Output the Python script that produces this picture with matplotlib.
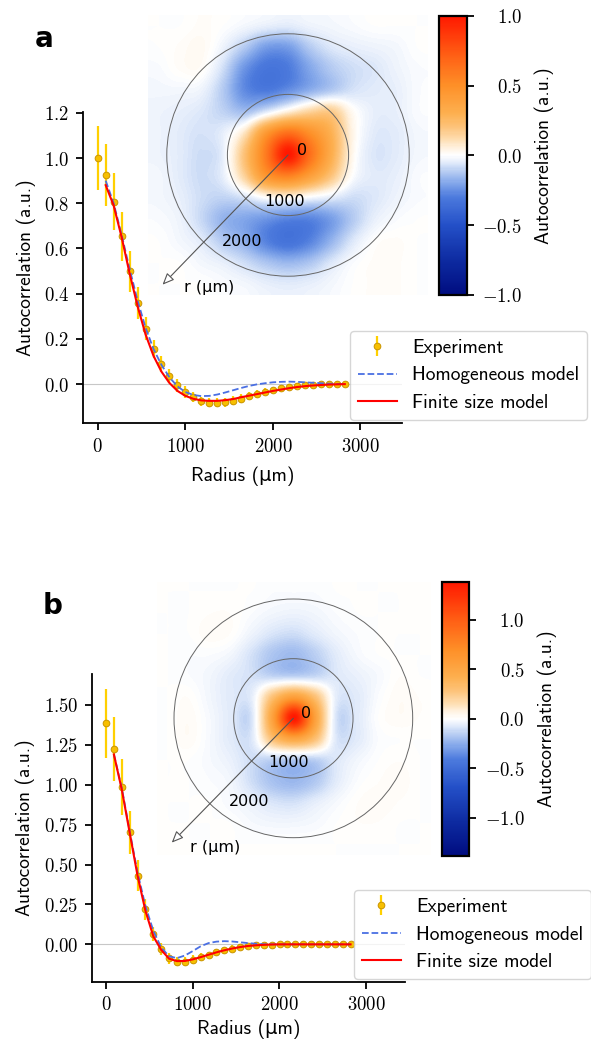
import numpy as np
import matplotlib
matplotlib.use("Agg")
from matplotlib import pyplot as plt
from matplotlib.colors import LinearSegmentedColormap
from matplotlib.patches import Circle, FancyArrowPatch
from matplotlib.ticker import FuncFormatter

plt.rcParams['mathtext.fontset'] = 'cm'

# radial positions of the measured points (um)
radius = np.arange(32) * 91

# panel a
exp_a = [1.0, 0.925, 0.807, 0.653, 0.499, 0.36, 0.245, 0.157, 0.09, 0.036, -0.006,
         -0.035, -0.057, -0.076, -0.083, -0.083, -0.08, -0.073, -0.065, -0.054, -0.044,
         -0.034, -0.026, -0.019, -0.013, -0.009, -0.005, -0.002, -0.001, 0.0, 0.0, 0.0]
err_a = [0.14, 0.135, 0.125, 0.11, 0.09, 0.07, 0.05, 0.04, 0.035, 0.03, 0.028,
         0.025, 0.022, 0.02, 0.02, 0.02, 0.02, 0.02, 0.02, 0.018, 0.018,
         0.016, 0.015, 0.015, 0.014, 0.013, 0.012, 0.012, 0.012, 0.012, 0.012, 0.012]
homog_a = [0.9, 0.8, 0.66, 0.51, 0.37, 0.25, 0.155, 0.085, 0.03, -0.01, -0.035,
           -0.048, -0.053, -0.052, -0.046, -0.037, -0.027, -0.017, -0.008, -0.001, 0.004,
           0.008, 0.01, 0.011, 0.01, 0.008, 0.006, 0.004, 0.002, 0.001, 0.0]
finite_a = [0.88, 0.79, 0.65, 0.49, 0.345, 0.22, 0.125, 0.055, 0.005, -0.03, -0.052,
            -0.065, -0.072, -0.074, -0.074, -0.071, -0.066, -0.058, -0.051, -0.044, -0.037,
            -0.03, -0.024, -0.018, -0.013, -0.009, -0.006, -0.004, -0.002, -0.001, 0.0]
map_a = [
    [0, 0, 0.01, 0, -0.02, -0.04, -0.05, -0.03, -0.02, -0.01, 0, 0, 0],
    [0, 0.01, 0.02, -0.03, -0.12, -0.22, -0.22, -0.12, -0.06, -0.04, -0.03, -0.02, 0],
    [-0.01, 0.01, 0.01, -0.08, -0.24, -0.32, -0.3, -0.2, -0.12, -0.08, -0.06, -0.03, -0.01],
    [-0.02, -0.02, -0.03, -0.12, -0.26, -0.3, -0.25, -0.18, -0.12, -0.07, -0.05, -0.04, -0.01],
    [-0.03, -0.04, -0.06, -0.1, -0.14, -0.05, 0.06, 0.15, 0.18, 0.02, -0.04, -0.04, -0.01],
    [-0.03, -0.05, -0.07, -0.04, 0.1, 0.45, 0.65, 0.5, 0.3, 0.04, -0.05, -0.05, -0.02],
    [-0.03, -0.05, -0.08, -0.04, 0.22, 0.6, 1.0, 0.65, 0.32, 0.03, -0.06, -0.05, -0.02],
    [-0.02, -0.05, -0.08, -0.04, 0.15, 0.45, 0.55, 0.4, 0.2, 0.0, -0.05, -0.04, -0.01],
    [-0.02, -0.04, -0.08, -0.1, -0.07, 0.0, 0.02, -0.02, -0.05, -0.08, -0.06, -0.03, -0.01],
    [-0.01, -0.03, -0.09, -0.17, -0.2, -0.24, -0.28, -0.28, -0.22, -0.12, -0.04, -0.01, 0],
    [0, -0.02, -0.05, -0.12, -0.18, -0.28, -0.33, -0.28, -0.17, -0.06, 0.0, 0.01, 0],
    [0, 0, -0.02, -0.04, -0.08, -0.13, -0.16, -0.13, -0.06, -0.01, 0.01, 0.01, 0],
    [0, 0, 0, -0.01, -0.02, -0.04, -0.05, -0.04, -0.02, 0, 0.01, 0.01, 0],
]

# panel b
exp_b = [1.385, 1.222, 0.988, 0.702, 0.43, 0.219, 0.063, -0.029, -0.087, -0.108, -0.108,
         -0.096, -0.082, -0.065, -0.051, -0.038, -0.026, -0.016, -0.01, -0.006, -0.003,
         -0.001, 0.0, 0.0, 0.0, 0.0, 0.0, 0.0, 0.0, 0.0, 0.0, 0.0]
err_b = [0.218, 0.2, 0.175, 0.136, 0.096, 0.068, 0.045, 0.04, 0.035, 0.03, 0.03,
         0.028, 0.025, 0.02, 0.02, 0.02, 0.02, 0.02, 0.015, 0.012, 0.012,
         0.012, 0.012, 0.012, 0.012, 0.012, 0.012, 0.012, 0.012, 0.012, 0.012, 0.012]
homog_b = [1.19, 0.98, 0.71, 0.45, 0.24, 0.085, -0.02, -0.075, -0.086, -0.07, -0.042,
           -0.012, 0.008, 0.017, 0.02, 0.018, 0.013, 0.008, 0.004, 0.001, 0.0,
           0.0, 0.0, 0.0, 0.0, 0.0, 0.0, 0.0, 0.0, 0.0, 0.0]
finite_b = [1.19, 0.97, 0.7, 0.43, 0.21, 0.05, -0.035, -0.09, -0.105, -0.104, -0.094,
            -0.08, -0.065, -0.05, -0.037, -0.026, -0.017, -0.01, -0.006, -0.003, -0.001,
            0.0, 0.0, 0.0, 0.0, 0.0, 0.0, 0.0, 0.0, 0.0, 0.0]
map_b = [
    [0, 0, 0, 0, 0, -0.01, -0.01, -0.01, 0, 0, 0, 0, 0],
    [0, 0, 0.01, 0.01, -0.01, -0.03, -0.04, -0.03, -0.01, 0, 0, 0, 0],
    [0, 0, 0.02, 0.01, -0.04, -0.09, -0.11, -0.07, -0.03, -0.01, 0, 0, 0],
    [0, -0.01, -0.01, -0.03, -0.1, -0.18, -0.21, -0.15, -0.07, -0.02, 0, 0, 0],
    [0, -0.01, -0.03, -0.07, -0.1, -0.14, -0.15, -0.13, -0.08, -0.05, -0.02, 0.01, 0],
    [0, 0.01, -0.03, -0.07, -0.06, 0.3, 0.55, 0.3, -0.06, -0.07, -0.01, 0.02, 0.01],
    [0, 0.02, -0.02, -0.07, -0.09, 0.55, 1.385, 0.55, -0.09, -0.07, 0.0, 0.02, 0.01],
    [0, 0.02, -0.02, -0.07, -0.08, 0.3, 0.5, 0.3, -0.08, -0.07, -0.01, 0, 0],
    [0, 0, -0.02, -0.05, -0.11, -0.15, -0.17, -0.15, -0.08, -0.03, 0, 0.01, 0],
    [0, 0, -0.01, -0.03, -0.11, -0.19, -0.22, -0.17, -0.07, -0.01, 0.01, 0.02, 0],
    [0, 0, 0, -0.02, -0.05, -0.09, -0.1, -0.06, -0.02, 0.01, 0.02, 0.01, 0],
    [0, 0, 0, 0, -0.02, -0.03, -0.03, -0.02, 0, 0.01, 0.01, 0, 0],
    [0, 0, 0, 0, 0, 0, 0, 0, 0, 0, 0, 0, 0],
]

cmap = LinearSegmentedColormap.from_list('autocorr', [
    (0.0, '#000c80'), (0.12, '#0d2aa0'), (0.25, '#2450c8'), (0.35, '#4c7add'),
    (0.4, '#82a6ea'), (0.45, '#c0d3f4'), (0.47, '#dde8fa'), (0.5, '#ffffff'),
    (0.53, '#fff0dc'), (0.55, '#fee2bb'), (0.6, '#fdc47c'), (0.65, '#fdb050'),
    (0.75, '#fe9028'), (0.875, '#ff5812'), (1.0, '#ff1800')])

sans = ['cmss10', 'DejaVu Sans']
W, H = 591, 1042


def frac(x0, y0, x1, y1):
    # pixel box -> figure fraction rect
    return [x0 / W, 1 - y1 / H, (x1 - x0) / W, (y1 - y0) / H]


fig = plt.figure(figsize=(5.91, 10.42), dpi=100)


def panel(box, xlim, ylim, yticks, yfmt, exp, err, homog, finite, legpos, xpad,
          imbox, half, grid, cbbox, cbticks, txt, tip, letter, letterpos):
    ax = fig.add_axes(frac(*box))
    ax.axhline(0, color='0.78', lw=0.8, zorder=0)
    eb = ax.errorbar(radius, exp, yerr=err, fmt='o', ms=4.8, mfc='#f7bf00', mec='#c99400',
                     mew=0.7, ecolor='#ffd000', elinewidth=1.6, capsize=0, zorder=2)
    l1, = ax.plot(radius[1:], homog, '--', color='#4a6fe3', lw=1.3, zorder=3)
    l2, = ax.plot(radius[1:], finite, '-', color='#ff0000', lw=1.5, zorder=4)
    ax.set_xlim(*xlim)
    ax.set_ylim(*ylim)
    ax.set_xticks([0, 1000, 2000, 3000])
    ax.set_yticks(yticks)
    ax.xaxis.set_major_formatter(FuncFormatter(lambda v, p: f'${v:.0f}$'))
    ax.yaxis.set_major_formatter(FuncFormatter(lambda v, p: '$' + yfmt % v + '$'))
    for s in ['top', 'right']:
        ax.spines[s].set_visible(False)
    for s in ['left', 'bottom']:
        ax.spines[s].set_linewidth(1.3)
    ax.tick_params(width=1.3, length=4.8, labelsize=13.5, pad=5)
    ax.set_xlabel('Radius (\u03bcm)', family=sans, fontsize=14, labelpad=xpad)
    ax.set_ylabel('Autocorrelation (a.u.)', family=sans, fontsize=14, labelpad=6)
    ax.legend([eb, l1, l2], ['Experiment', 'Homogeneous model', 'Finite size model'],
              loc='upper left', bbox_to_anchor=(legpos[0] / W, 1 - legpos[1] / H),
              bbox_transform=fig.transFigure, borderaxespad=0,
              prop={'family': sans, 'size': 14})

    iax = fig.add_axes(frac(*imbox))
    vmax = grid[6][6]
    im = iax.imshow(grid, cmap=cmap, vmin=-vmax, vmax=vmax, extent=(-half, half, -half, half),
                    interpolation='catrom')
    iax.set_axis_off()
    for r in [1000, 2000]:
        iax.add_patch(Circle((0, 0), r, fill=False, ec='#666666', lw=0.7))
    for s, (tx, ty) in zip(['0', '1000', '2000', 'r (µm)'], txt):
        iax.text(tx, ty, s, ha='center', va='center', fontsize=11.5)
    iax.add_patch(FancyArrowPatch((0, 0), tip, arrowstyle='-|>,head_length=0.7,head_width=0.3',
                                  mutation_scale=10, ec='#555555', fc='white', lw=0.8,
                                  shrinkA=0, shrinkB=0))
    iax.set_xlim(-half, half)
    iax.set_ylim(-half, half)

    cax = fig.add_axes(frac(*cbbox))
    cb = fig.colorbar(im, cax=cax)
    cb.outline.set_linewidth(1.6)
    cb.set_ticks(cbticks)
    cax.yaxis.set_major_formatter(FuncFormatter(lambda v, p: f'${v:.1f}$'))
    cax.tick_params(width=1.3, length=4.8, labelsize=13.5, pad=35)
    plt.setp(cax.get_yticklabels(), ha='right')
    cb.set_label('Autocorrelation (a.u.)', family=sans, fontsize=14, labelpad=9)

    fig.text(letterpos[0] / W, 1 - letterpos[1] / H, letter, fontweight='bold',
             fontsize=20, ha='center', va='baseline')


panel((83, 111.7, 402, 423), (-168, 3474), (-0.172, 1.205), [0, 0.2, 0.4, 0.6, 0.8, 1.0, 1.2],
      '%.1f', exp_a, err_a, homog_a, finite_a, (350, 331), 8,
      (148, 15, 428, 295), 2310, map_a, (439, 15.7, 466.7, 295), [-1, -0.5, 0, 0.5, 1],
      [(230, 80), (-60, -770), (-750, -1430), (-1300, -2190)], (-2070, -2140), 'a', (44, 47))

panel((91.7, 674, 405, 981.7), (-165, 3449), (-0.234, 1.694), [0, 0.25, 0.5, 0.75, 1.0, 1.25, 1.5],
      '%.2f', exp_b, err_b, homog_b, finite_b, (354, 890), 4,
      (156.7, 581.7, 430, 855), 2290, map_b, (441.7, 581.7, 469.3, 855.7), [-1, -0.5, 0, 0.5, 1],
      [(210, 83), (-78, -744), (-749, -1393), (-1306, -2166)], (-2038, -2083), 'b', (53, 614))

fig.savefig('out.png', dpi=100)
